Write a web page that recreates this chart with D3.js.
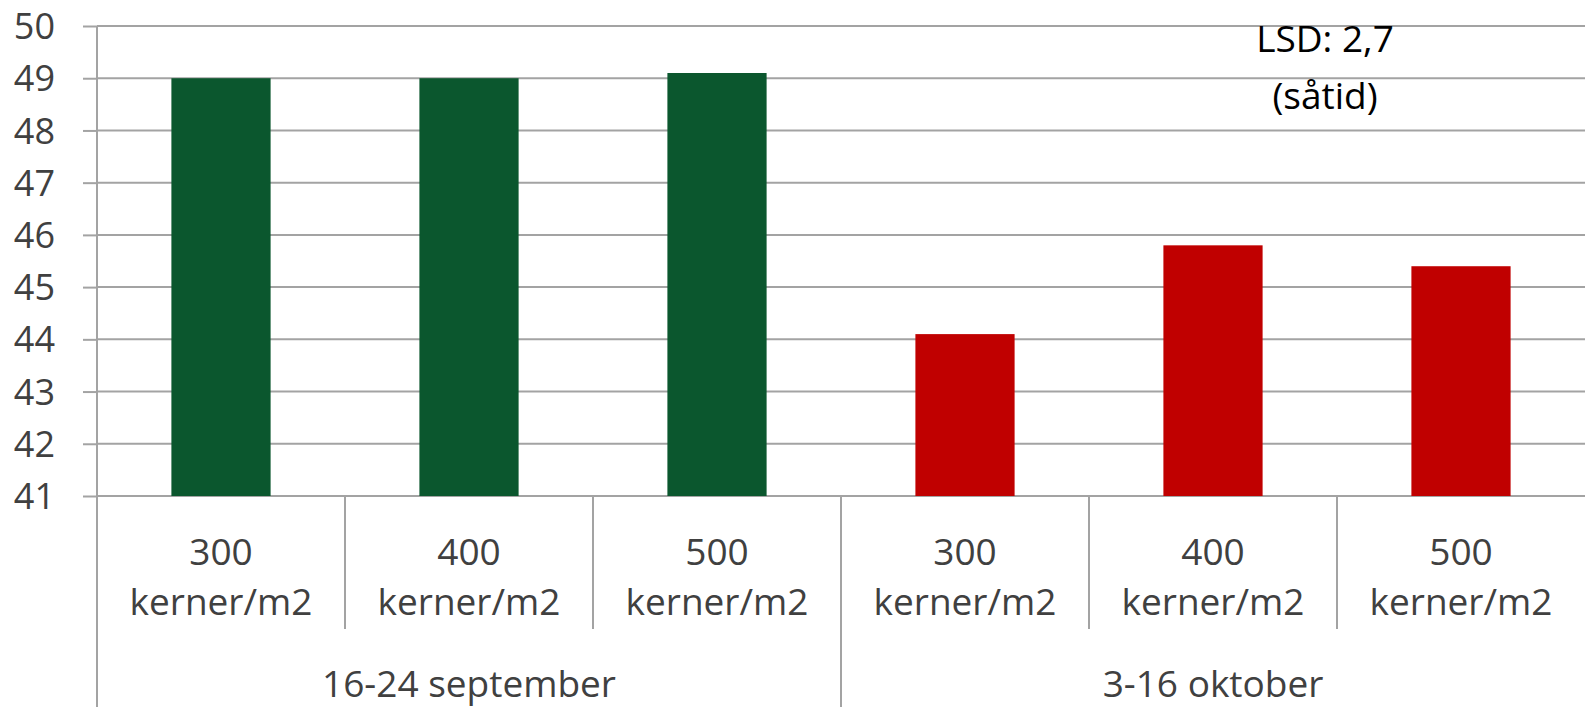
<!DOCTYPE html>
<html>
<head>
<meta charset="utf-8">
<script src="https://cdn.jsdelivr.net/npm/d3@7/dist/d3.min.js"></script>
<style>
html,body{margin:0;padding:0;background:#fff;}
svg{display:block;}
text{font-family:"Open Sans",sans-serif;}
</style>
</head>
<body>
<svg id="chart" width="1585" height="707"></svg>
<script>
const groups = ["16-24 september", "3-16 oktober"];
const densities = ["300", "400", "500"];
const unitLabel = "kerner/m2";
const septValues = [49.0, 49.0, 49.1];
const oktValues = [44.1, 45.8, 45.4];
const yTicks = [41, 42, 43, 44, 45, 46, 47, 48, 49, 50];
const groupColors = ["#0b572e", "#c00000"];
const annotation = ["LSD: 2,7", "(såtid)"];

(function () {
const data = [];
[septValues, oktValues].forEach((vals, g) => {
  vals.forEach((v, i) => data.push({g, i, key: g * 3 + i, density: densities[i], value: v}));
});

const svg = d3.select("#chart");
const mLeft = 97, mRight = 1585, mTop = 26, mBottom = 496, H = 707;
const fontSize = 37;
const textColor = "#404040";
const gridColor = "#a3a3a3";

const x = d3.scaleBand().domain(data.map(d => d.key)).range([mLeft, mRight]).paddingInner(0.6).paddingOuter(0.3);
const y = d3.scaleLinear().domain([41, 50]).range([mBottom, mTop]);

// gridlines
svg.append("g").selectAll("line").data(yTicks).join("line")
  .attr("x1", mLeft).attr("x2", mRight)
  .attr("y1", d => y(d)).attr("y2", d => y(d))
  .attr("stroke", gridColor).attr("stroke-width", 2);

// y axis
const yAxis = svg.append("g").attr("transform", `translate(${mLeft},0)`)
  .call(d3.axisLeft(y).tickValues(yTicks).tickSize(14).tickPadding(28).tickFormat(d3.format("d")));
yAxis.select(".domain").remove();
yAxis.selectAll(".tick line").attr("stroke", gridColor).attr("stroke-width", 2);
yAxis.selectAll(".tick text").attr("font-size", 36).attr("fill", textColor)
  .attr("dy", "0.35em")
  .attr("font-family", "'Open Sans',sans-serif");

// bars
svg.append("g").selectAll("rect").data(data).join("rect")
  .attr("x", d => x(d.key))
  .attr("width", x.bandwidth())
  .attr("y", d => y(d.value))
  .attr("height", d => y(41) - y(d.value))
  .attr("fill", d => groupColors[d.g]);

// left vertical axis line down to bottom
svg.append("line").attr("x1", mLeft).attr("x2", mLeft).attr("y1", mTop).attr("y2", H)
  .attr("stroke", gridColor).attr("stroke-width", 2);

// category dividers
const step = x.step();
const edge = k => x(k) - step * x.paddingInner() / 2;
const catBounds = d3.range(1, 6).filter(k => k !== 3);
svg.append("g").selectAll("line").data(catBounds).join("line")
  .attr("x1", edge).attr("x2", edge)
  .attr("y1", mBottom).attr("y2", 629)
  .attr("stroke", gridColor).attr("stroke-width", 2);
// group divider
svg.append("line")
  .attr("x1", edge(3)).attr("x2", edge(3))
  .attr("y1", mBottom).attr("y2", H)
  .attr("stroke", gridColor).attr("stroke-width", 2);

// category labels
const catG = svg.append("g").selectAll("text").data(data).join("text")
  .attr("text-anchor", "middle")
  .attr("font-size", fontSize).attr("fill", textColor);
catG.append("tspan").attr("x", d => x(d.key) + x.bandwidth() / 2).attr("y", 565).text(d => d.density);
catG.append("tspan").attr("x", d => x(d.key) + x.bandwidth() / 2).attr("y", 615).text(unitLabel);

// group labels
svg.append("g").selectAll("text").data(groups).join("text")
  .attr("x", (g, gi) => (x(gi * 3) + x(gi * 3 + 2) + x.bandwidth()) / 2)
  .attr("y", 697)
  .attr("text-anchor", "middle")
  .attr("font-size", fontSize).attr("fill", textColor)
  .text(g => g);

// annotation
svg.append("g").selectAll("text").data(annotation).join("text")
  .attr("x", 1325).attr("y", (d, i) => 52 + i * 57)
  .attr("text-anchor", "middle")
  .attr("font-size", fontSize).attr("fill", "#000")
  .text(d => d);
})();
</script>
</body>
</html>
